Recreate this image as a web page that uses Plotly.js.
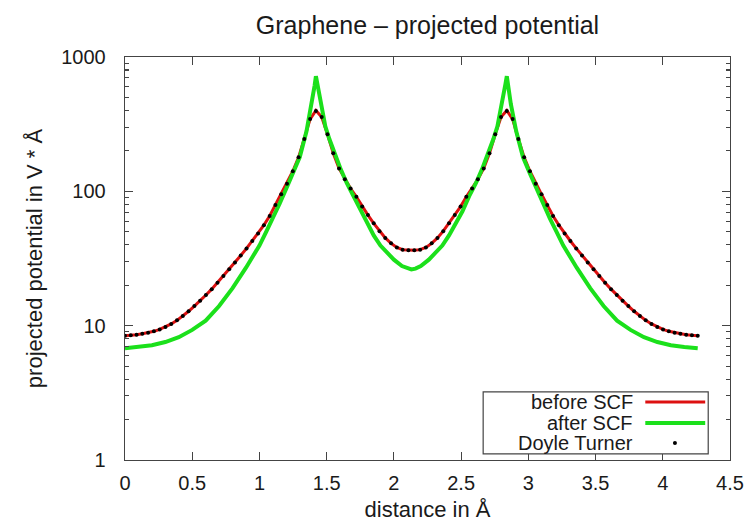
<!DOCTYPE html>
<html>
<head>
<meta charset="utf-8">
<script src="https://cdn.plot.ly/plotly-3.0.1.min.js"></script>
<style>
  html, body { margin: 0; padding: 0; background: #ffffff; }
  #chart { width: 748px; height: 527px; }
</style>
</head>
<body>
<div id="chart"></div>
<script>
// ---- data ----
var gridX = [0.000, 0.043, 0.086, 0.129, 0.172, 0.215, 0.258, 0.301, 0.344, 0.387,
  0.430, 0.473, 0.516, 0.559, 0.602, 0.645, 0.688, 0.732, 0.775, 0.818,
  0.861, 0.904, 0.947, 0.990, 1.033, 1.076, 1.119, 1.162, 1.205, 1.248,
  1.291, 1.334, 1.377, 1.420, 1.463, 1.506, 1.549, 1.592, 1.635, 1.678,
  1.721, 1.764, 1.807, 1.850, 1.893, 1.936, 1.979, 2.022, 2.065, 2.108,
  2.152, 2.195, 2.238, 2.281, 2.324, 2.367, 2.410, 2.453, 2.496, 2.539,
  2.582, 2.625, 2.668, 2.711, 2.754, 2.797, 2.840, 2.883, 2.926, 2.969,
  3.012, 3.055, 3.098, 3.141, 3.184, 3.227, 3.270, 3.313, 3.356, 3.399,
  3.442, 3.485, 3.528, 3.571, 3.615, 3.658, 3.701, 3.744, 3.787, 3.830,
  3.873, 3.916, 3.959, 4.002, 4.045, 4.088, 4.131, 4.174, 4.217, 4.260];

var doyleTurner = [8.41, 8.47, 8.57, 8.71, 8.87, 9.08, 9.38, 9.77, 10.3, 10.96,
  11.8, 12.8, 14.0, 15.3, 16.9, 18.7, 20.9, 23.4, 26.3, 29.5,
  33.3, 37.6, 42.7, 48.6, 56.0, 65.5, 79, 95, 114, 141,
  179, 245, 345, 396, 357, 266, 192, 148, 123, 105,
  91, 77, 66.6, 57.8, 50.5, 45, 41, 38.2, 36.8, 36.4,
  36.4, 36.8, 38.2, 41, 45, 50.5, 57.8, 66.6, 77, 91,
  105, 123, 148, 192, 266, 357, 396, 345, 245, 179,
  141, 114, 95, 79, 65.5, 56.0, 48.6, 42.7, 37.6, 33.3,
  29.5, 26.3, 23.4, 20.9, 18.7, 16.9, 15.3, 14.0, 12.8, 11.8,
  10.96, 10.3, 9.77, 9.38, 9.08, 8.87, 8.71, 8.57, 8.47, 8.41];

var beforeSCF = [8.41, 8.47, 8.57, 8.71, 8.87, 9.08, 9.38, 9.77, 10.3, 10.96,
  11.8, 12.8, 14.0, 15.3, 16.9, 18.7, 20.9, 23.4, 26.3, 29.5,
  33.3, 37.6, 42.7, 48.6, 56.0, 65.5, 79, 95, 114, 141,
  179, 245, 345, 400, 357, 266, 192, 148, 123, 105,
  91, 77, 66.6, 57.8, 50.5, 45, 41, 38.2, 36.8, 36.4,
  36.4, 36.8, 38.2, 41, 45, 50.5, 57.8, 66.6, 77, 91,
  105, 123, 148, 192, 266, 357, 400, 345, 245, 179,
  141, 114, 95, 79, 65.5, 56.0, 48.6, 42.7, 37.6, 33.3,
  29.5, 26.3, 23.4, 20.9, 18.7, 16.9, 15.3, 14.0, 12.8, 11.8,
  10.96, 10.3, 9.77, 9.38, 9.08, 8.87, 8.71, 8.57, 8.47, 8.41];

var afterX = [0, 0.1, 0.2, 0.3, 0.4, 0.5, 0.6, 0.7, 0.8, 0.9,
  1.0, 1.05, 1.1, 1.15, 1.2, 1.25, 1.3, 1.35, 1.39, 1.41,
  1.42, 1.43, 1.45, 1.47, 1.49, 1.52, 1.55, 1.6, 1.65, 1.7,
  1.75, 1.8, 1.85, 1.9, 1.95, 2.0, 2.06, 2.1, 2.13,
  2.16, 2.2, 2.26, 2.31, 2.36, 2.41, 2.46, 2.51, 2.56, 2.61,
  2.66, 2.71, 2.74, 2.77, 2.79, 2.81, 2.83, 2.84, 2.85, 2.87,
  2.91, 2.96, 3.01, 3.06, 3.11, 3.16, 3.21, 3.26, 3.36, 3.46,
  3.56, 3.66, 3.76, 3.86, 3.96, 4.06, 4.16, 4.26];

var afterSCF = [6.8, 6.95, 7.15, 7.55, 8.2, 9.3, 10.9, 14.0, 19.0, 27.0,
  39.5, 50, 63, 81, 105, 137, 180, 280, 445, 610,
  720, 630, 480, 380, 305, 245, 200, 150, 115, 92,
  71, 57, 47, 39.5, 35, 31, 27.8, 26.6, 26.2,
  26.6, 27.8, 31, 35, 39.5, 47, 57, 71, 92, 115,
  150, 200, 245, 305, 380, 480, 630, 720, 610, 445,
  280, 180, 137, 105, 81, 63, 50, 39.5, 27.0, 19.0,
  14.0, 10.9, 9.3, 8.2, 7.55, 7.15, 6.95, 6.8];

var xTicks = [0, 0.5, 1, 1.5, 2, 2.5, 3, 3.5, 4, 4.5];
var xTickText = ['0', '0.5', '1', '1.5', '2', '2.5', '3', '3.5', '4', '4.5'];
var yTicks = [1, 10, 100, 1000];
var yTickText = ['1', '10', '100', '1000'];
var yMinor = [2, 3, 4, 5, 6, 7, 8, 9, 20, 30, 40, 50, 60, 70, 80, 90, 200, 300, 400, 500, 600, 700, 800, 900];
var legendNames = ['before SCF', 'after SCF', 'Doyle Turner'];

// ---- styles ----
var RED = '#dd1010';
var GREEN = '#1be01b';
var FONT = 'Liberation Sans, Arial, Helvetica, sans-serif';
var AX = '#444444';
var TXT = '#1a1a1a';

var traces = [
  { x: gridX, y: beforeSCF, type: 'scatter', mode: 'lines', name: legendNames[0],
    line: { color: RED, width: 3 }, showlegend: false },
  { x: afterX, y: afterSCF, type: 'scatter', mode: 'lines', name: legendNames[1],
    line: { color: GREEN, width: 4 }, showlegend: false },
  { x: gridX, y: doyleTurner, type: 'scatter', mode: 'markers', name: legendNames[2],
    marker: { color: '#000000', size: 4 }, showlegend: false }
];

// manual gnuplot-style legend (text left, sample right)
var lgRows = [0.144, 0.092, 0.042];
var shapes = [
  { type: 'rect', xref: 'paper', yref: 'paper', x0: 0.592, x1: 0.964, y0: 0.015, y1: 0.169,
    line: { color: AX, width: 1.2 }, fillcolor: '#ffffff', layer: 'above' },
  { type: 'line', xref: 'paper', yref: 'paper', x0: 0.860, x1: 0.959, y0: lgRows[0], y1: lgRows[0],
    line: { color: RED, width: 3 }, layer: 'above' },
  { type: 'line', xref: 'paper', yref: 'paper', x0: 0.860, x1: 0.959, y0: lgRows[1], y1: lgRows[1],
    line: { color: GREEN, width: 4 }, layer: 'above' },
  { type: 'circle', xref: 'paper', yref: 'paper', xsizemode: 'pixel', ysizemode: 'pixel',
    xanchor: 0.909, yanchor: lgRows[2], x0: -2, x1: 2, y0: -2, y1: 2,
    fillcolor: '#000000', line: { color: '#000000', width: 0 }, layer: 'above' }
];
var annotations = legendNames.map(function (t, i) {
  return { text: t, xref: 'paper', yref: 'paper', x: 0.843, y: lgRows[i],
    xanchor: 'right', yanchor: 'middle', showarrow: false,
    font: { family: FONT, size: 20, color: TXT } };
});

var layout = {
  width: 748, height: 527,
  margin: { l: 125, r: 18, t: 57, b: 67, pad: 0 },
  paper_bgcolor: '#ffffff', plot_bgcolor: '#ffffff',
  font: { family: FONT, color: TXT },
  title: { text: 'Graphene \u2013 projected potential', x: 0.5, xref: 'paper',
    y: 1 - 25 / 527, yref: 'container', yanchor: 'middle',
    font: { family: FONT, size: 25, color: TXT } },
  xaxis: {
    range: [0, 4.5], showgrid: false, zeroline: false,
    tickmode: 'array', tickvals: xTicks, ticktext: xTickText,
    ticks: 'inside', ticklen: 8, tickwidth: 1.2, tickcolor: AX,
    showline: true, linecolor: AX, linewidth: 1.3, mirror: 'ticks',
    tickfont: { family: FONT, size: 20, color: TXT },
    ticklabelstandoff: 5,
    title: { text: 'distance in \u00c5', font: { family: FONT, size: 22, color: TXT }, standoff: 8 }
  },
  yaxis: {
    type: 'log', range: [0, 3], showgrid: false, zeroline: false,
    tickmode: 'array', tickvals: yTicks, ticktext: yTickText,
    ticks: 'inside', ticklen: 8, tickwidth: 1.2, tickcolor: AX,
    minor: { tickmode: 'array', tickvals: yMinor, ticks: 'inside', ticklen: 4, tickwidth: 1.1, tickcolor: AX, showgrid: false },
    showline: true, linecolor: AX, linewidth: 1.3, mirror: 'ticks',
    tickfont: { family: FONT, size: 20, color: TXT },
    ticklabelstandoff: 14,
    title: { text: 'projected potential in V * \u00c5', font: { family: FONT, size: 22, color: TXT }, standoff: 12 }
  },
  shapes: shapes,
  annotations: annotations,
  showlegend: false
};

Plotly.newPlot('chart', traces, layout, { displayModeBar: false, staticPlot: true });
</script>
</body>
</html>
